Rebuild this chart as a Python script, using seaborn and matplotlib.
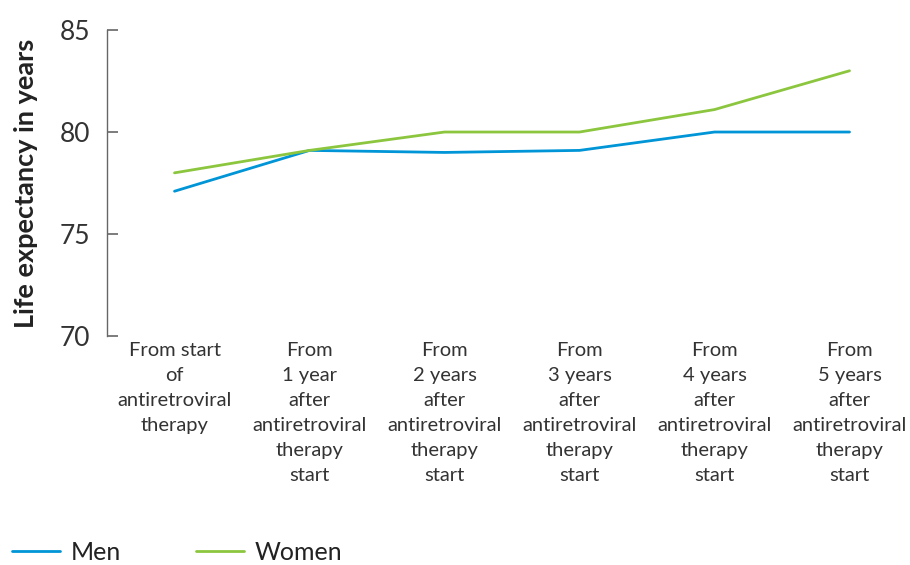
import pandas as pd
import matplotlib.pyplot as plt
import seaborn as sns

# Values
stages = [
    "From start\nof\nantiretroviral\ntherapy",
    "From\n1 year\nafter\nantiretroviral\ntherapy\nstart",
    "From\n2 years\nafter\nantiretroviral\ntherapy\nstart",
    "From\n3 years\nafter\nantiretroviral\ntherapy\nstart",
    "From\n4 years\nafter\nantiretroviral\ntherapy\nstart",
    "From\n5 years\nafter\nantiretroviral\ntherapy\nstart",
]
men = [77.1, 79.1, 79.0, 79.1, 80.0, 80.0]
women = [78.0, 79.1, 80.0, 80.0, 81.1, 83.0]

df = pd.DataFrame({
    "stage": list(range(len(stages))) * 2,
    "years": men + women,
    "group": ["Men"] * len(men) + ["Women"] * len(women),
})

sns.set_style("white")
plt.rcParams['font.family'] = ['Lato', 'DejaVu Sans']
plt.rcParams['ytick.left'] = True
plt.rcParams['ytick.direction'] = 'in'
plt.rcParams['ytick.major.size'] = 8
plt.rcParams['ytick.major.width'] = 1.2

fig = plt.figure(figsize=(9.1, 5.65), dpi=100)
ax = fig.add_axes([0.1176, 0.405, 0.8824, 0.542])

sns.lineplot(data=df, x="stage", y="years", hue="group",
             palette={"Men": "#0095d6", "Women": "#8cc63f"},
             linewidth=2, ax=ax)

ax.set_xlim(-0.5, 5.448)
ax.set_ylim(70, 85)
ax.set_yticks([70, 75, 80, 85])
ax.set_xticks(range(len(stages)))
ax.set_xticklabels(stages, fontsize=14.5, color="#333333", linespacing=1.57)
ax.tick_params(axis="x", length=0, pad=4)
ax.tick_params(axis="y", left=True, direction="in", length=8, width=1.2, color="#666666",
               labelsize=19, labelcolor="#333333", pad=12)
for s in ["top", "right", "bottom"]:
    ax.spines[s].set_visible(False)
ax.spines["left"].set_color("#666666")
ax.spines["left"].set_linewidth(1)
ax.set_xlabel("")
ax.set_ylabel("Life expectancy in years", fontsize=19.5, fontweight="bold",
              color="#222222", labelpad=16)

handles, labels = ax.get_legend_handles_labels()
ax.get_legend().remove()
fig.legend(handles, labels, loc="lower left", bbox_to_anchor=(-0.012, -0.038),
           ncol=2, frameon=False, fontsize=18, handlelength=1.95,
           handletextpad=0.4, columnspacing=3.0, labelcolor="#222222")

fig.savefig("out.png", dpi=100)
